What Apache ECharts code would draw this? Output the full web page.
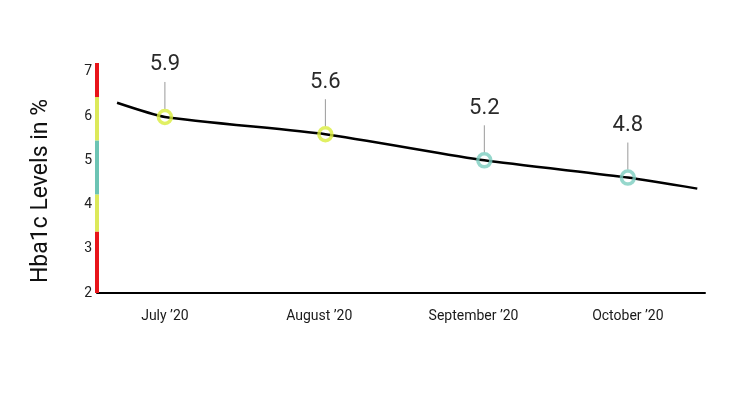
<!DOCTYPE html>
<html>
<head>
<meta charset="utf-8">
<script src="https://cdn.jsdelivr.net/npm/echarts@6/dist/echarts.min.js"></script>
<style>
  html, body { margin: 0; padding: 0; background: #fff; }
  #chart { width: 730px; height: 411px; }
</style>
</head>
<body>
<div id="chart"></div>
<script>
// months on the x axis
const months = ['July \u201920', 'August \u201920', 'September \u201920', 'October \u201920'];
// where the rings sit along the time axis, their values and the printed labels
const readingX = [0, 1.04, 2.07, 3];
const readings = [5.98, 5.59, 5.0, 4.61];
const readingLabels = ['5.9', '5.6', '5.2', '4.8'];
const readingColors = ['#d9ec3c', '#d9ec3c', '#7ccdbf', '#7ccdbf'];
// trend line runs a bit past the first and last reading
const trendStart = [-0.31, 6.30];
const trendEnd = [3.45, 4.36];
// coloured ranges along the y axis
const bandFrom = [2, 3.39, 4.23, 5.45, 6.43];
const bandTo = [3.39, 4.23, 5.45, 6.43, 7.2];
const bandColors = ['#e8141a', '#dce95a', '#6cc4b4', '#dce95a', '#e8141a'];

const X_MIN = -0.44, X_MAX = 3.5;
const font = 'Roboto, "Noto Sans", sans-serif';

const trendData = [trendStart].concat(readings.map((v, i) => [readingX[i], v]), [trendEnd]);
const pointData = readings.map((v, i) => ({
  value: [readingX[i], v],
  itemStyle: { borderColor: readingColors[i] }
}));
const bandData = bandFrom.map((f, i) => [f, bandTo[i], i]);

const chart = echarts.init(document.getElementById('chart'), null, { renderer: 'canvas' });

const option = {
  animation: false,
  textStyle: { fontFamily: font },
  grid: { left: 97, right: 25, top: 63, bottom: 118 },
  xAxis: {
    type: 'value',
    min: X_MIN,
    max: X_MAX,
    splitLine: { show: false },
    axisTick: { show: false },
    axisLine: { lineStyle: { color: '#000', width: 2 } },
    axisLabel: {
      customValues: [0, 1, 2, 3],
      formatter: v => months[Math.round(v)] || '',
      color: '#1a1a1a',
      fontSize: 14,
      margin: 16
    }
  },
  yAxis: {
    type: 'value',
    min: 2,
    max: 7.2,
    interval: 1,
    name: 'Hba1c Levels in %',
    nameLocation: 'middle',
    nameGap: 44,
    nameTextStyle: { fontSize: 23, color: '#111', padding: [0, 26, 0, 0] },
    splitLine: { show: false },
    axisTick: { show: false },
    axisLine: { show: false },
    axisLabel: {
      color: '#222',
      fontSize: 14,
      margin: 5,
      formatter: v => (v % 1 === 0 ? String(v) : '')
    }
  },
  series: [
    {
      // coloured y axis
      type: 'custom',
      data: bandData,
      z: 5,
      renderItem: (params, api) => {
        const a = api.coord([X_MIN, api.value(0)]);
        const b = api.coord([X_MIN, api.value(1)]);
        return {
          type: 'line',
          shape: { x1: a[0], y1: a[1], x2: b[0], y2: b[1] },
          style: { stroke: bandColors[api.value(2)], lineWidth: 4 }
        };
      }
    },
    {
      type: 'line',
      data: trendData,
      smooth: 0.2,
      showSymbol: false,
      lineStyle: { color: '#000', width: 2.5 },
      z: 2
    },
    {
      type: 'scatter',
      data: pointData,
      symbol: 'circle',
      symbolSize: 13,
      itemStyle: { color: 'rgba(255,255,255,0)', borderWidth: 3.5 },
      z: 4
    },
    {
      // leader lines and value labels
      type: 'custom',
      data: readings.map((v, i) => [readingX[i], v]),
      z: 3,
      renderItem: (params, api) => {
        const p = api.coord([api.value(0), api.value(1)]);
        return {
          type: 'group',
          children: [
            {
              type: 'line',
              shape: { x1: p[0], y1: p[1] - 8, x2: p[0], y2: p[1] - 35 },
              style: { stroke: '#9a9a9a', lineWidth: 1 }
            },
            {
              type: 'text',
              x: p[0],
              y: p[1] - 41,
              style: {
                text: readingLabels[params.dataIndex],
                fontSize: 22,
                fontFamily: font,
                fill: '#2a2a2a',
                align: 'center',
                verticalAlign: 'bottom'
              }
            }
          ]
        };
      }
    }
  ]
};
chart.setOption(option);
</script>
</body>
</html>
